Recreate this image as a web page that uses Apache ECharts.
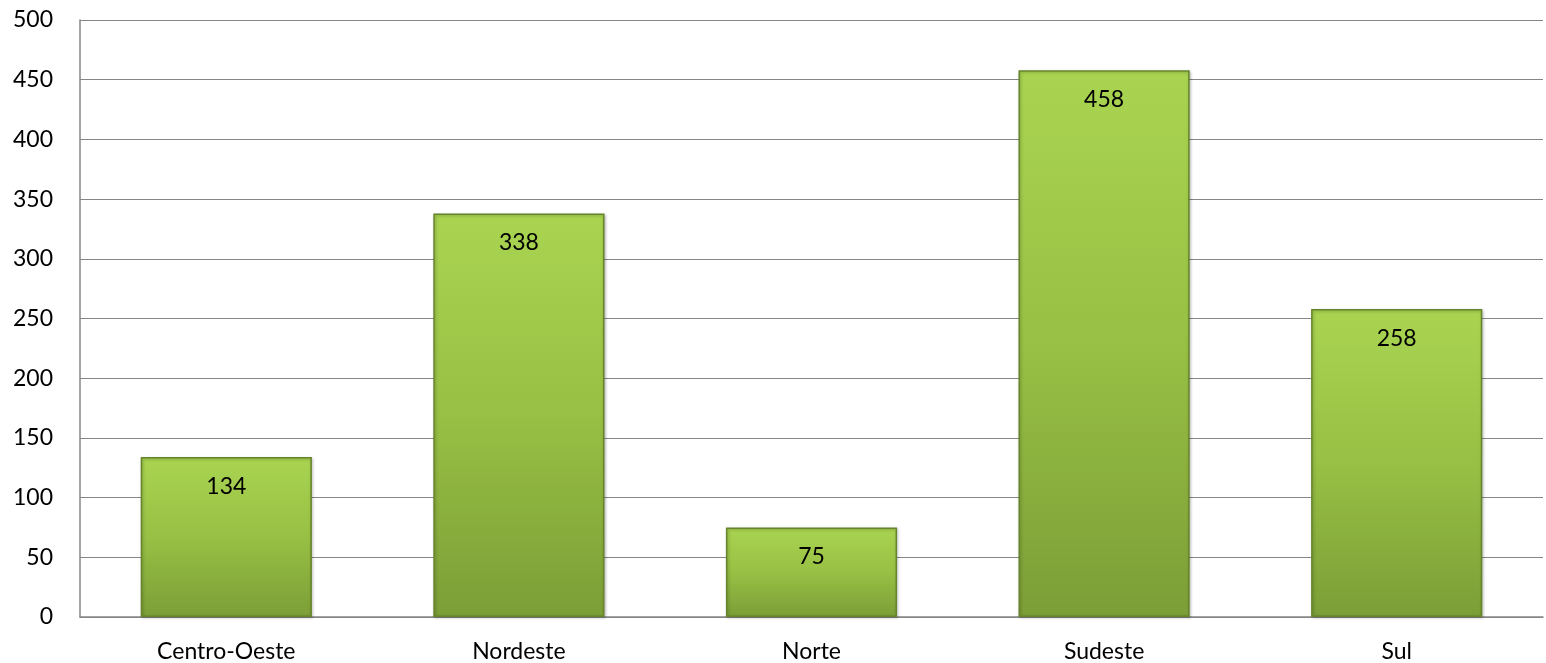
<!DOCTYPE html>
<html>
<head>
<meta charset="utf-8">
<script src="https://cdn.jsdelivr.net/npm/echarts@6/dist/echarts.min.js"></script>
<style>html,body{margin:0;padding:0;background:#fff}#c{width:1546px;height:663px}</style>
</head>
<body>
<div id="c"></div>
<script>
const categories = ['Centro-Oeste', 'Nordeste', 'Norte', 'Sudeste', 'Sul'];
const values = [134, 338, 75, 458, 258];

const chart = echarts.init(document.getElementById('c'), null, {renderer: 'canvas'});
const font = 'Lato, "Open Sans", sans-serif';
chart.setOption({
  animation: false,
  grid: {left: 80, right: 3, top: 20, bottom: 46, containLabel: false},
  xAxis: {
    type: 'category',
    data: categories,
    axisLine: {lineStyle: {color: '#868686', width: 1.5}},
    axisTick: {show: false},
    axisLabel: {color: '#000', fontSize: 23, fontFamily: font, margin: 23}
  },
  yAxis: {
    type: 'value',
    min: 0, max: 500, interval: 50,
    axisLine: {show: true, lineStyle: {color: '#868686', width: 1.5}},
    axisTick: {show: false},
    axisLabel: {color: '#000', fontSize: 23, fontFamily: font, margin: 27},
    splitLine: {lineStyle: {color: '#868686', width: 1.2}}
  },
  series: [{
    type: 'bar',
    data: values,
    barWidth: '58.5%',
    itemStyle: {
      color: new echarts.graphic.LinearGradient(0, 0, 0, 1, [
        {offset: 0, color: '#a9d451'},
        {offset: 0.5, color: '#98c044'},
        {offset: 1, color: '#7c9e37'}
      ]),
      borderColor: '#66852a',
      borderWidth: 1.5,
      shadowColor: 'rgba(0,0,0,0.25)',
      shadowBlur: 3,
      shadowOffsetX: 1,
      shadowOffsetY: 1
    },
    label: {
      show: true,
      position: 'insideTop',
      distance: 18,
      color: '#000',
      fontSize: 23,
      fontFamily: font
    }
  }]
});
</script>
</body>
</html>
